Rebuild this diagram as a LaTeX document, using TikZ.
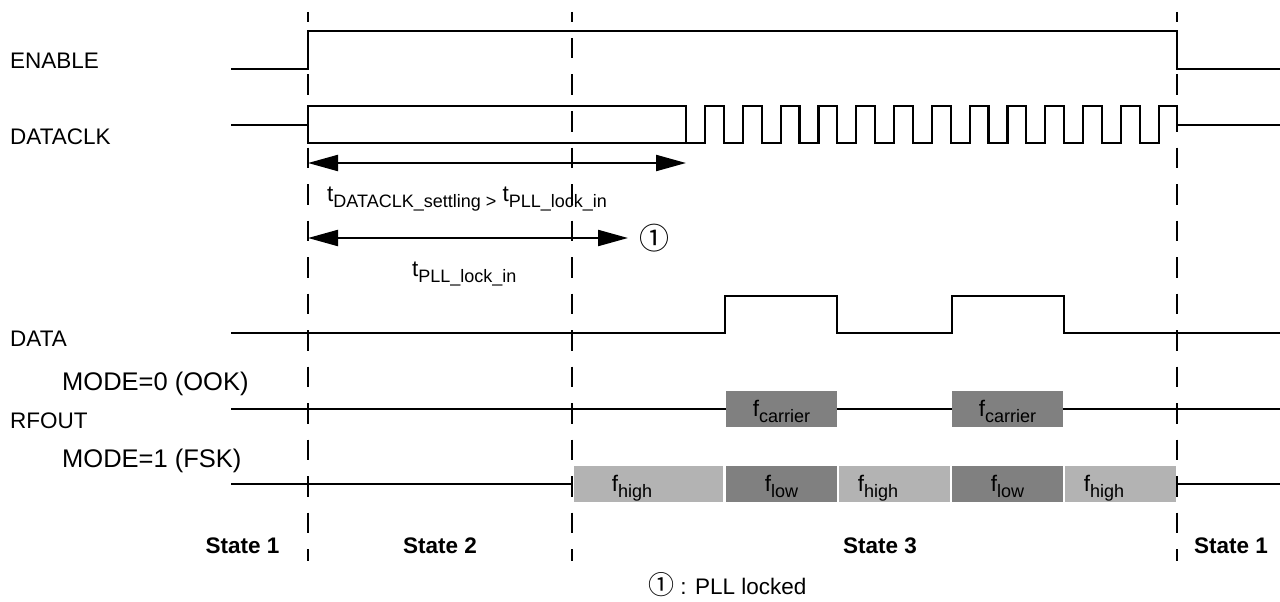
\documentclass[tikz,border=0pt]{standalone}
\usepackage{fontspec}
\setmainfont{Liberation Sans}
\newfontfamily\symfont{Noto Sans CJK SC}
\usetikzlibrary{arrows.meta}
\newcommand\mysub[1]{\raisebox{-5.5pt}{\fontsize{18}{18}\selectfont #1}}
\definecolor{darkbar}{RGB}{128,128,128}
\definecolor{lightbar}{RGB}{179,179,179}
\begin{document}
\begin{tikzpicture}[x=1pt,y=-1pt,
  sig/.style={line width=2.2pt},
  guide/.style={line width=2.2pt, dash pattern=on 20.5pt off 16pt, dash phase=10.5pt},
  lbl/.style={anchor=base west, inner sep=0pt, font=\fontsize{22.5}{27}\selectfont},
  modelbl/.style={anchor=base west, inner sep=0pt, font=\fontsize{25.5}{30}\selectfont},
  statelbl/.style={anchor=base, inner sep=0pt, font=\fontsize{22.5}{27}\selectfont\bfseries},
  flbl/.style={anchor=base, inner sep=0pt, font=\fontsize{22.5}{27}\selectfont},
  dim/.style={line width=2.2pt, {Triangle[length=30pt,width=16pt]}-{Triangle[length=30pt,width=16pt]}},
  darkbox/.style={fill=darkbar, draw=none},
  lightbox/.style={fill=lightbar, draw=none}]
\useasboundingbox (0,0) rectangle (1280,602);

% guide lines
\coordinate (g1t) at (308,12);   \coordinate (g1b) at (308,561);
\coordinate (g2t) at (572,12);   \coordinate (g2b) at (572,561);
\coordinate (g3t) at (1177,12);  \coordinate (g3b) at (1177,561);
\draw[guide] (g1t) -- (g1b);
\draw[guide] (g2t) -- (g2b);
\draw[guide] (g3t) -- (g3b);

% signal labels
\node[lbl] (lenable) at (10,69) {ENABLE};
\node[lbl] (ldataclk) at (10,144) {DATACLK};
\node[lbl] (ldata) at (10,346) {DATA};
\node[modelbl] (lmode0) at (62,390) {MODE=0 (OOK)};
\node[lbl] (lrfout) at (10,428) {RFOUT};
\node[modelbl] (lmode1) at (62,467) {MODE=1 (FSK)};

% ENABLE
\draw[sig] (231,69) -- (308,69) -- (308,31) -- (1177,31) -- (1177,69) -- (1280,69);

% DATACLK
\draw[sig] (231,125) -- (308,125);
\draw[sig] (686,143) -- (308,143) -- (308,106)
  foreach \k in {0,...,12} { -- ({686+37.8*\k},106) -- ({686+37.8*\k},143) -- ({705+37.8*\k},143) -- ({705+37.8*\k},106) }
  -- (1177,106) -- (1177,125) -- (1280,125);

% dimension arrows
\coordinate (a1l) at (308,163); \coordinate (a1r) at (686,163);
\draw[dim] (a1l) -- (a1r);
\node[lbl] (tset) at (327,201.5) {t\mysub{DATACLK\_settling >} t\mysub{PLL\_lock\_in}};
\coordinate (a2l) at (308,238); \coordinate (a2r) at (628,238);
\draw[dim] (a2l) -- (a2r);
\node[inner sep=0pt, font=\symfont\fontsize{30}{34}\selectfont] (c1) at (654,238) {①};
\node[lbl] (tpll) at (412,276.5) {t\mysub{PLL\_lock\_in}};

% DATA
\draw[sig] (231,333) -- (725,333) -- (725,296) -- (837,296) -- (837,333) -- (952,333) -- (952,296) -- (1064,296) -- (1064,333) -- (1280,333);

% RFOUT OOK
\draw[sig] (231,409) -- (726,409);
\draw[sig] (837,409) -- (952,409);
\draw[sig] (1063,409) -- (1280,409);
\fill[darkbox] (726,391) rectangle (837,427);
\fill[darkbox] (952,391) rectangle (1063,427);
\node[flbl] (fc1) at (781.5,416.5) {f\mysub{carrier}};
\node[flbl] (fc2) at (1007.5,416.5) {f\mysub{carrier}};

% RFOUT FSK
\draw[sig] (231,484) -- (571,484);
\draw[sig] (1177,484) -- (1280,484);
\fill[lightbox] (574,466) rectangle (723,502);
\fill[darkbox]  (726,466) rectangle (837,502);
\fill[lightbox] (839,466) rectangle (950,502);
\fill[darkbox]  (952,466) rectangle (1063,502);
\fill[lightbox] (1065,466) rectangle (1176,502);
\node[flbl] (fh1) at (632,491.5) {f\mysub{high}};
\node[flbl] (fl1) at (781.5,491.5) {f\mysub{low}};
\node[flbl] (fh2) at (878,491.5) {f\mysub{high}};
\node[flbl] (fl2) at (1007.5,491.5) {f\mysub{low}};
\node[flbl] (fh3) at (1104,491.5) {f\mysub{high}};

% states
\node[statelbl] (s1) at (242.5,553) {State 1};
\node[statelbl] (s2) at (440,553) {State 2};
\node[statelbl] (s3) at (880,553) {State 3};
\node[statelbl, anchor=base west] (s1b) at (1194,553) {State 1};

% footnote
\node[lbl] (note) at (648,594) {{\symfont\fontsize{26}{30}\selectfont ①} : PLL locked};
\end{tikzpicture}
\end{document}
